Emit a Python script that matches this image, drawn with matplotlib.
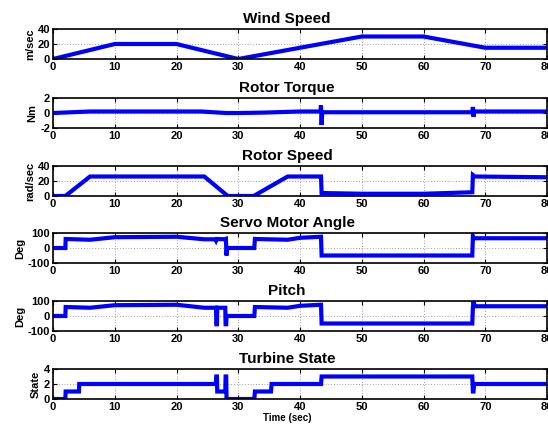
import matplotlib
matplotlib.use("Agg")
import matplotlib.pyplot as plt
import numpy as np

plt.rcParams['font.family'] = ['Liberation Sans', 'DejaVu Sans']
plt.rcParams['font.weight'] = 'bold'
plt.rcParams['axes.unicode_minus'] = False

# Wind speed
wind_t = [0, 10, 20, 30, 50, 60, 70, 80]
wind_v = [0, 20, 20, 0, 30, 30, 15, 15]

# Rotor torque
torque_t = [0, 6, 24, 28, 30, 34, 40, 43.3, 43.4, 43.5, 43.6, 67.9, 68.0, 68.1, 68.2, 80]
torque_v = [0.0, 0.2, 0.2, 0.0, 0.0, 0.05, 0.2, 0.2, 1.0, -1.6, 0.1, 0.1, 0.8, -0.5, 0.2, 0.2]

# Rotor speed
speed_t = [0, 2, 6, 24.5, 28.3, 32.5, 38, 43.4, 43.5, 50, 60, 67.9, 68.0, 68.3, 80]
speed_v = [0, 0, 26, 26, 0, 0, 26, 26, 4, 3, 3, 5, 28, 26, 25]

# Servo motor angle
servo_t = [0, 2, 2.05, 6, 10, 20, 24.5, 26.3, 26.4, 26.5, 27.9, 28.0, 28.1, 28.2, 32.6, 32.7, 38, 40, 43.4, 43.5, 67.9, 68.0, 68.2, 80]
servo_v = [0, 0, 60, 55, 72, 75, 58, 58, 50, 60, 58, 60, -50, 0, 0, 60, 55, 68, 75, -50, -50, 80, 65, 65]

# Pitch
pitch_t = [0, 2, 2.05, 6, 10, 20, 24.5, 26.4, 26.45, 26.55, 26.6, 27.9, 27.95, 28.05, 28.1, 32.6, 32.7, 38, 40, 43.4, 43.5, 67.9, 68.0, 68.1, 68.3, 80]
pitch_v = [0, 0, 60, 55, 72, 75, 55, 55, -55, -55, 55, 55, -55, -55, 0, 0, 60, 55, 68, 75, -50, -50, 60, 100, 65, 65]

# Turbine state
state_t = [0, 2, 2.05, 4.2, 4.25, 26.4, 26.45, 26.55, 26.6, 27.9, 27.95, 28.05, 28.1, 32.6, 32.7, 35.3, 35.4, 43.4, 43.5, 67.9, 68.0, 68.1, 68.2, 80]
state_v = [0, 0, 1, 1, 2, 2, 3, 3, 1, 1, 3, 3, 0, 0, 1, 1, 2, 2, 3, 3, 1, 1, 2, 2]

titles = ['Wind Speed', 'Rotor Torque', 'Rotor Speed', 'Servo Motor Angle', 'Pitch', 'Turbine State']
ylabels = ['m/sec', 'Nm', 'rad/sec', 'Deg', 'Deg', 'State']
yticks = [[0, 20, 40], [-2, 0, 2], [0, 20, 40], [-100, 0, 100], [-100, 0, 100], [0, 2, 4]]
series = [(wind_t, wind_v), (torque_t, torque_v), (speed_t, speed_v),
          (servo_t, servo_v), (pitch_t, pitch_v), (state_t, state_v)]
xticks = list(range(0, 81, 10))

W, H = 548, 432
fig = plt.figure(figsize=(W / 100, H / 100), dpi=100)
tops = [29, 98, 166, 233, 301, 369]
ax_h = 30
left, right = 53, 547
title_x = (287 - left) / (right - left)

for i in range(6):
    ax = fig.add_axes([left / W, 1 - (tops[i] + ax_h) / H, (right - left) / W, ax_h / H])
    t, v = series[i]
    ax.plot(t, v, color='#0000ff', lw=3.0, solid_joinstyle='miter')
    ax.set_xlim(0, 80)
    ax.set_ylim(yticks[i][0], yticks[i][-1])
    ax.set_xticks(xticks)
    ax.set_yticks(yticks[i])
    ax.tick_params(direction='in', top=True, right=True, length=3, width=0.8,
                   labelsize=8, pad=2)
    for lab in ax.get_xticklabels() + ax.get_yticklabels():
        lab.set_fontweight('bold')
    ax.grid(True, linestyle=(0, (1, 3)), color='black', lw=0.5, alpha=0.7)
    for s in ax.spines.values():
        s.set_linewidth(1.2)
    ax.set_title(titles[i], fontsize=11, fontweight='bold', pad=4, x=title_x)
    ax.set_ylabel(ylabels[i], fontsize=8, fontweight='bold', labelpad=2)

ax.set_xlabel('Time (sec)', fontsize=7, fontweight='bold', labelpad=1, x=title_x)

fig.savefig('out.png', dpi=100)
